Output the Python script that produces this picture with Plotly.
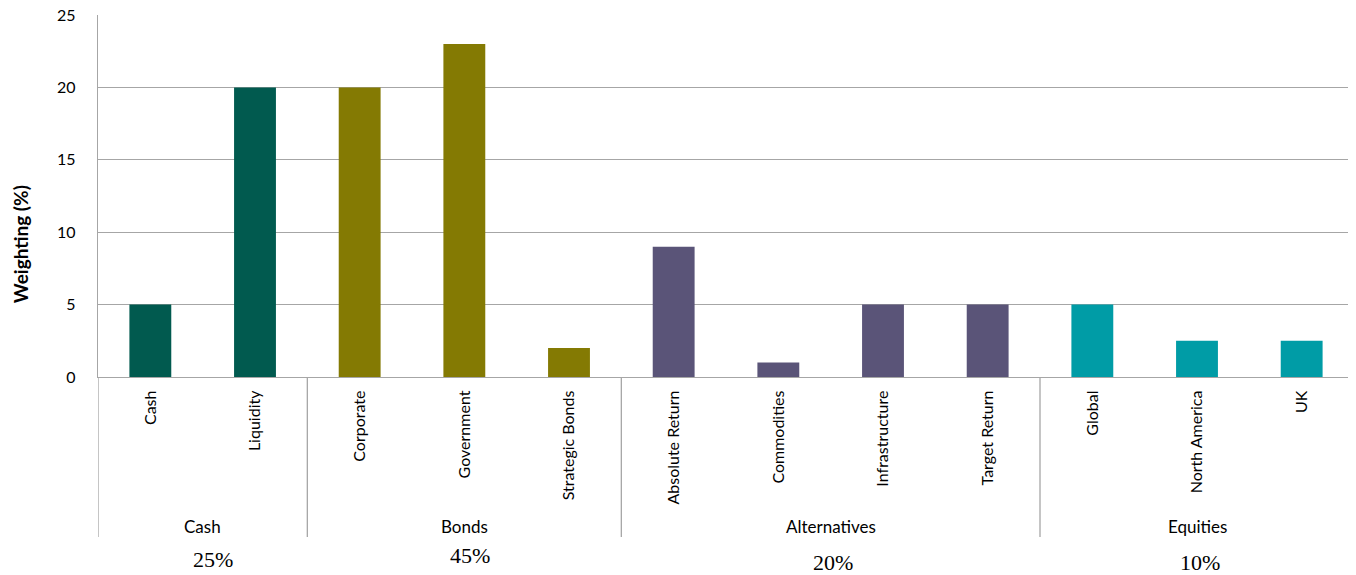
import plotly.graph_objects as go

categories = ["Cash", "Liquidity", "Corporate", "Government", "Strategic Bonds",
              "Absolute Return", "Commodities", "Infrastructure", "Target Return",
              "Global", "North America", "UK"]
values = [5, 20, 20, 23, 2, 9, 1, 5, 5, 5, 2.5, 2.5]
groups = ["Cash", "Cash", "Bonds", "Bonds", "Bonds",
          "Alternatives", "Alternatives", "Alternatives", "Alternatives",
          "Equities", "Equities", "Equities"]
group_names = ["Cash", "Bonds", "Alternatives", "Equities"]
group_pct = ["25%", "45%", "20%", "10%"]
group_colors = {"Cash": "#015a4f", "Bonds": "#847a03", "Alternatives": "#5a5478", "Equities": "#009ca6"}

FONT = "Lato, 'Open Sans', sans-serif"
GRID = "#a6a6a6"

fig = go.Figure()
fig.add_trace(go.Bar(
    x=list(range(len(categories))), y=values,
    marker=dict(color=[group_colors[g] for g in groups], line=dict(width=0)),
    width=0.4, showlegend=False,
))

# group spans (by index)
spans = []
start = 0
for i in range(1, len(groups) + 1):
    if i == len(groups) or groups[i] != groups[start]:
        spans.append((start, i - 1))
        start = i

shapes = []
bounds = [spans[0][0] - 0.5] + [e + 0.5 for (s, e) in spans]
for b in bounds:
    shapes.append(dict(type="line", xref="x", yref="paper", x0=b, x1=b, y0=0, y1=-0.442,
                       line=dict(color=GRID, width=1.3)))

annotations = []
pct_offsets = [0.1, 0.05, 0.02, 0.03]
pct_y = [-0.504, -0.494, -0.512, -0.512]
for k, (s, e) in enumerate(spans):
    c = (s + e) / 2
    annotations.append(dict(x=c, y=-0.414, xref="x", yref="paper", text=group_names[k],
                            showarrow=False, font=dict(family=FONT, size=17, color="#000"),
                            xanchor="center", yanchor="middle"))
    annotations.append(dict(x=c + pct_offsets[k], y=pct_y[k], xref="x", yref="paper", text=group_pct[k],
                            showarrow=False, font=dict(family="'Liberation Serif', serif", size=22, color="#000"),
                            xanchor="center", yanchor="middle"))

annotations.append(dict(x=-0.0621, y=0.367, xref="paper", yref="paper", text="<b>Weighting (%)</b>",
                        textangle=-90, showarrow=False, font=dict(family=FONT, size=19, color="#000"),
                        xanchor="center", yanchor="middle"))

fig.update_layout(
    width=1348, height=567,
    margin=dict(l=90, r=2, t=7, b=198),
    plot_bgcolor="white", paper_bgcolor="white",
    shapes=shapes, annotations=annotations,
    xaxis=dict(
        tickmode="array", tickvals=list(range(len(categories))), ticktext=categories,
        tickangle=-90, range=[-0.5, len(categories) - 0.5],
        showline=True, linecolor=GRID, linewidth=1.3,
        showgrid=False, ticks="", ticklabelstandoff=6, automargin=False,
        tickfont=dict(family=FONT, size=16, color="#000"),
    ),
    yaxis=dict(
        range=[0, 25], dtick=5, showgrid=True, gridcolor=GRID, gridwidth=1.3,
        showline=True, linecolor=GRID, linewidth=1.3, zeroline=False,
        ticks="", ticklabelstandoff=18, ticklabeloverflow="allow", automargin=False,
        tickfont=dict(family=FONT, size=16, color="#000"),
    ),
)

fig.write_html("out.html")
